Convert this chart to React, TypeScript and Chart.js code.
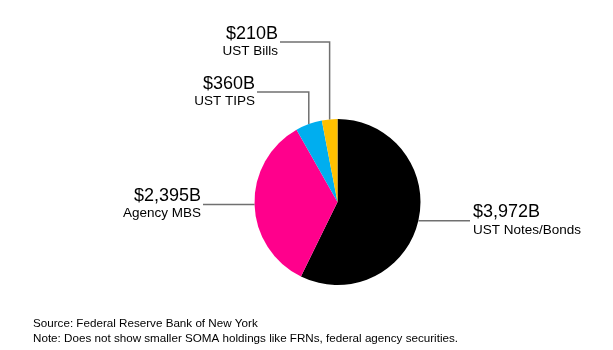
import React, { useEffect, useRef } from "react";
import { Chart, registerables } from "chart.js";

Chart.register(...registerables);

const categories = ["UST Notes/Bonds", "Agency MBS", "UST TIPS", "UST Bills"];
const holdings = [3972, 2395, 360, 210];
const valueLabels = ["$3,972B", "$2,395B", "$360B", "$210B"];
const sliceColors = ["#000000", "#FF008C", "#00AEEF", "#FFC000"];
const footnotes = [
  "Source: Federal Reserve Bank of New York",
  "Note: Does not show smaller SOMA holdings like FRNs, federal agency securities.",
];

const FONT = "'Liberation Sans', Arial, Helvetica, sans-serif";

// leader layout per slice: 'side' lines go horizontally to endX; 'up' lines go vertically to y, then horizontally to endX
const leaders: any[] = [
  { kind: "side", endX: 470, align: "left" },
  { kind: "side", endX: 203, align: "right" },
  { kind: "up", y: 92, endX: 257, align: "right" },
  { kind: "up", y: 42, endX: 280, align: "right" },
];

const leaderPlugin = {
  id: "leaderLabels",
  afterDatasetsDraw(chart: any) {
    const ctx = chart.ctx;
    const meta = chart.getDatasetMeta(0);
    meta.data.forEach((arc: any, i: number) => {
      const { x, y, startAngle, endAngle, outerRadius } = arc.getProps(
        ["x", "y", "startAngle", "endAngle", "outerRadius"],
        true
      );
      const mid = (startAngle + endAngle) / 2;
      const px = x + Math.cos(mid) * outerRadius;
      const py = y + Math.sin(mid) * outerRadius;
      const L = leaders[i];
      ctx.save();
      ctx.strokeStyle = "#707070";
      ctx.lineWidth = 1.5;
      ctx.beginPath();
      let ly: number;
      ctx.moveTo(px, py);
      if (L.kind === "side") {
        ly = py;
        ctx.lineTo(L.endX, ly);
      } else {
        ly = L.y;
        ctx.lineTo(px, ly);
        ctx.lineTo(L.endX, ly);
      }
      ctx.stroke();
      const tx = L.align === "left" ? L.endX + 3 : L.endX - 2;
      ctx.textAlign = L.align;
      ctx.textBaseline = "alphabetic";
      ctx.fillStyle = "#000000";
      ctx.font = `18px ${FONT}`;
      ctx.fillText(valueLabels[i], tx, ly - 3.5);
      ctx.font = `13.5px ${FONT}`;
      ctx.fillText(categories[i], tx, ly + 13);
      ctx.restore();
    });
    // footnotes
    ctx.save();
    ctx.fillStyle = "#000000";
    ctx.font = `11.65px ${FONT}`;
    ctx.textAlign = "left";
    ctx.textBaseline = "alphabetic";
    footnotes.forEach((t, k) => ctx.fillText(t, 33, 327 + k * 15));
    ctx.restore();
  },
};

export default function App() {
  const ref = useRef<HTMLCanvasElement | null>(null);
  useEffect(() => {
    if (!ref.current) return;
    const chart = new Chart(ref.current, {
      type: "pie",
      data: {
        labels: categories,
        datasets: [
          {
            data: holdings,
            backgroundColor: sliceColors,
            borderWidth: 0,
          },
        ],
      },
      options: {
        responsive: false,
        animation: false,
        layout: { padding: { top: 119, bottom: 65, left: 254.5, right: 192.5 } },
        plugins: {
          legend: { display: false },
          tooltip: { enabled: false },
        },
      },
      plugins: [leaderPlugin],
    });
    return () => chart.destroy();
  }, []);
  return (
    <div style={{ position: "fixed", left: 0, top: 0, width: 613, height: 350, background: "#fff" }}>
      <canvas ref={ref} width={613} height={350} style={{ width: 613, height: 350, display: "block" }} />
    </div>
  );
}
